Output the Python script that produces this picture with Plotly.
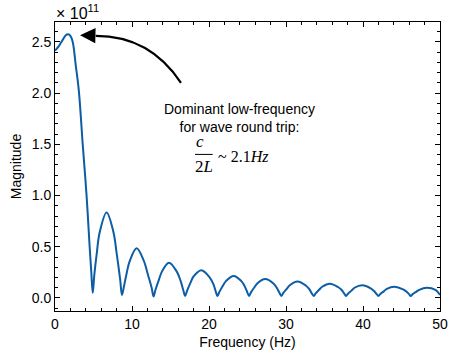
import plotly.graph_objects as go

# spectrum magnitude, in units of 1e11 (one line per lobe)
freq = [0.0, 0.5, 1.0, 1.4, 1.7, 2.0, 2.3, 2.7, 3.1, 3.6, 4.1, 4.5, 4.7, 4.9,
        5.1, 5.4, 5.8, 6.7, 7.6, 8.0, 8.45, 8.7,
        8.95, 9.3, 9.7, 10.6, 11.5, 12.1, 12.55, 12.8,
        13.05, 13.5, 13.9, 14.8, 15.8, 16.3, 16.65, 16.9,
        17.15, 17.6, 18.0, 19.0, 20.1, 20.6, 20.85, 21.1,
        21.35, 21.8, 22.2, 23.2, 24.2, 24.6, 24.95, 25.2,
        25.45, 25.9, 26.3, 27.3, 28.4, 28.8, 29.15, 29.4,
        29.65, 30.1, 30.5, 31.5, 32.6, 33.0, 33.35, 33.6,
        33.85, 34.3, 34.7, 35.7, 36.8, 37.2, 37.55, 37.8,
        38.05, 38.5, 38.9, 39.9, 41.0, 41.4, 41.75, 42.0,
        42.25, 42.7, 43.1, 44.1, 45.2, 45.6, 45.95, 46.2,
        46.45, 46.9, 47.3, 48.3, 49.4, 49.8, 50.0]
magnitude = [2.415, 2.46, 2.52, 2.565, 2.575, 2.56, 2.50, 2.27, 2.02, 1.50, 1.00, 0.50, 0.27, 0.05,
             0.22, 0.42, 0.64, 0.835, 0.64, 0.44, 0.19, 0.03,
             0.11, 0.24, 0.36, 0.485, 0.37, 0.22, 0.10, 0.015,
             0.08, 0.18, 0.26, 0.345, 0.26, 0.17, 0.08, 0.02,
             0.07, 0.15, 0.21, 0.27, 0.20, 0.13, 0.07, 0.02,
             0.06, 0.12, 0.165, 0.215, 0.165, 0.12, 0.06, 0.02,
             0.055, 0.105, 0.145, 0.185, 0.14, 0.10, 0.05, 0.02,
             0.05, 0.09, 0.125, 0.16, 0.12, 0.09, 0.045, 0.02,
             0.045, 0.08, 0.11, 0.14, 0.105, 0.08, 0.045, 0.02,
             0.042, 0.072, 0.10, 0.125, 0.095, 0.07, 0.04, 0.02,
             0.04, 0.065, 0.09, 0.11, 0.085, 0.065, 0.04, 0.02,
             0.038, 0.06, 0.08, 0.10, 0.08, 0.05, 0.03]

x_ticks = [0, 10, 20, 30, 40, 50]
y_ticks = [0.0, 0.5, 1.0, 1.5, 2.0, 2.5]
y_labels = ["0.0", "0.5", "1.0", "1.5", "2.0", "2.5"]

font = "Liberation Sans, Arial, sans-serif"
serif = "Liberation Serif, Times New Roman, serif"
fs = 14

fig = go.Figure(go.Scatter(x=freq, y=magnitude, mode="lines", line_shape="spline",
                           line=dict(color="#0C5DA5", width=2), hoverinfo="skip"))

axis_common = dict(showline=True, linecolor="black", linewidth=1, mirror="allticks",
                   ticks="inside", tickcolor="black", tickwidth=1, ticklen=5,
                   showgrid=False, zeroline=False, automargin=False,
                   ticklabeloverflow="allow",
                   tickfont=dict(family=font, size=fs, color="black"))

fig.update_xaxes(range=[0, 50], tickvals=x_ticks,
                 minor=dict(ticks="inside", dtick=2, ticklen=3, tickcolor="black", showgrid=False),
                 title=dict(text="Frequency (Hz)", font=dict(family=font, size=fs, color="black"), standoff=6),
                 **axis_common)
fig.update_yaxes(range=[-0.127, 2.695], tickvals=y_ticks, ticktext=y_labels,
                 minor=dict(ticks="inside", dtick=0.1, tick0=0, ticklen=3, tickcolor="black", showgrid=False),
                 title=dict(text="Magnitude", font=dict(family=font, size=fs, color="black"), standoff=6),
                 **axis_common)

# curved arrow pointing at the low-frequency peak
fig.add_shape(type="path", xref="x", yref="y",
              path="M 16.36,2.10 Q 12.34,2.559 5.3,2.559",
              line=dict(color="black", width=2.2))
fig.add_annotation(x=3.25, y=2.565, ax=5.6, ay=2.561, xref="x", yref="y", axref="x", ayref="y",
                   text=" ", showarrow=True, arrowhead=2, arrowsize=1.4, arrowwidth=2.2, arrowcolor="black")

fig.add_annotation(x=24.0, y=1.759, xref="x", yref="y", showarrow=False, align="center",
                   text="Dominant low-frequency<br>for wave round trip:",
                   font=dict(family=font, size=fs, color="black"))
fig.add_annotation(x=18.83, y=1.526, xref="x", yref="y", showarrow=False,
                   text="<i>c</i>", font=dict(family=serif, size=17, color="black"))
fig.add_annotation(x=19.3, y=1.28, xref="x", yref="y", showarrow=False,
                   text="2<i>L</i>", font=dict(family=serif, size=17, color="black"))
fig.add_shape(type="line", xref="x", yref="y", x0=18.18, x1=20.48, y0=1.402, y1=1.402,
              line=dict(color="black", width=1))
fig.add_annotation(x=20.9, y=1.38, xref="x", yref="y", showarrow=False, xanchor="left",
                   text="~ 2.1<i>Hz</i>", font=dict(family=serif, size=16, color="black"))

fig.add_annotation(x=0, y=1, xref="paper", yref="paper", yanchor="bottom", xanchor="left",
                   showarrow=False, yshift=-2, xshift=-1,
                   text="× 10<sup>11</sup>", font=dict(family=font, size=16, color="black"))

fig.update_layout(width=449, height=357, margin=dict(l=55, r=9, t=22, b=46),
                  paper_bgcolor="white", plot_bgcolor="white", showlegend=False)

# the page body has a default 8px margin; drop it so the figure sits at the corner
fig.write_html("out.html", config={"displayModeBar": False},
               post_script="document.body.style.margin='0';")
